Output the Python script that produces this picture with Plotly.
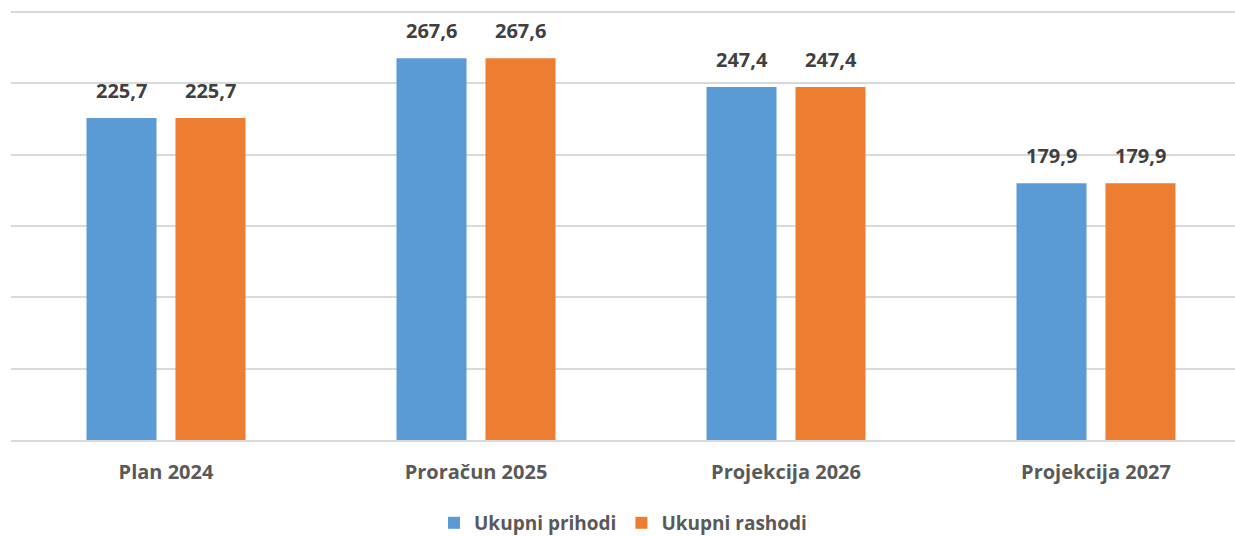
import plotly.graph_objects as go

categories = ["Plan 2024", "Proračun 2025", "Projekcija 2026", "Projekcija 2027"]
prihodi = [225.7, 267.6, 247.4, 179.9]
rashodi = [225.7, 267.6, 247.4, 179.9]
series_names = ["Ukupni prihodi", "Ukupni rashodi"]
colors = ["#5B9BD5", "#ED7D31"]

def fmt(v):
    return f"{v:.1f}".replace(".", ",")

fig = go.Figure()
for name, vals, col in zip(series_names, [prihodi, rashodi], colors):
    fig.add_trace(go.Bar(
        x=categories, y=vals, name=name,
        marker=dict(color=col, line=dict(width=0)),
    ))

# data labels above each bar
offsets = [-44.5, 44.5]
for vals, dx in zip([prihodi, rashodi], offsets):
    for c, v in zip(categories, vals):
        fig.add_annotation(
            x=c, y=v, xshift=dx, yshift=12, text=fmt(v), showarrow=False,
            yanchor="bottom", xanchor="center",
            font=dict(family="Open Sans", size=20, color="#404040", weight="bold"),
        )

fig.update_layout(
    width=1235, height=536,
    margin=dict(l=11, r=0, t=8, b=96, autoexpand=False),
    paper_bgcolor="white", plot_bgcolor="white",
    barmode="group", bargap=0.426, bargroupgap=0.213,
    showlegend=True,
    legend=dict(orientation="h", x=0.5, xanchor="center", y=-0.192, yanchor="middle",
                font=dict(family="Open Sans", size=19, color="#595959", weight="bold"),
                itemwidth=30, traceorder="normal"),
    xaxis=dict(range=[-0.5, -0.5 + 1224 / 310], showgrid=False, showline=True,
               linecolor="#d9d9d9", linewidth=2, ticks="", ticklabelstandoff=13,
               tickfont=dict(family="Open Sans", size=20, color="#595959", weight="bold")),
    yaxis=dict(range=[0, 302.8], tickvals=[50, 100, 150, 200, 250, 300], showgrid=True,
               gridcolor="#d9d9d9", gridwidth=2,
               showticklabels=False, zeroline=False, fixedrange=True),
)

fig.write_html(
    "out.html",
    config={"responsive": False, "displayModeBar": False},
    post_script="document.body.style.margin='0';document.body.style.overflow='hidden';",
)
